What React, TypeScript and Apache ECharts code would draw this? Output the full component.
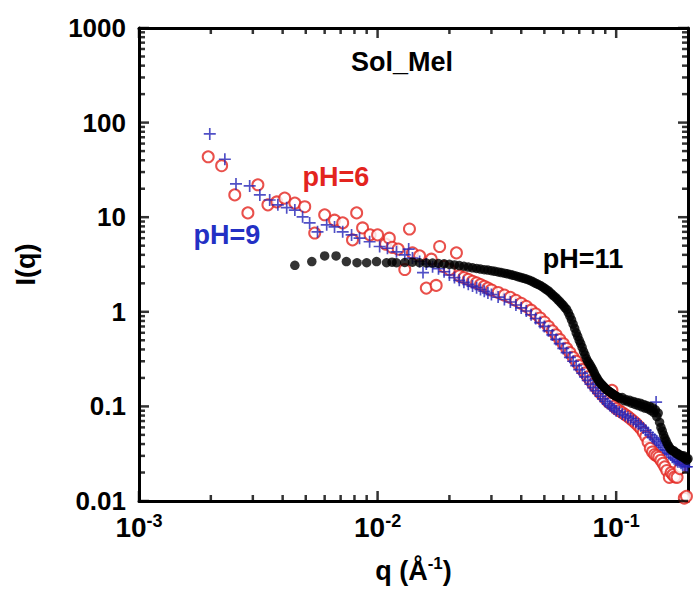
import React, { useEffect, useRef } from 'react';
import * as echarts from 'echarts';

// pH = 9 (blue crosses)
const qPH9 = [0.00198, 0.00229, 0.00255, 0.00291, 0.00321, 0.00353, 0.00382, 0.00416, 0.0045, 0.00485, 0.00519, 0.0056, 0.00612, 0.0066, 0.00714, 0.00778, 0.0084, 0.00926, 0.0102, 0.011, 0.012, 0.013, 0.0135, 0.014, 0.015, 0.0155, 0.016, 0.017, 0.018, 0.019, 0.020, 0.021, 0.022, 0.023, 0.024, 0.025, 0.026, 0.027, 0.028, 0.029, 0.030, 0.032, 0.034, 0.036, 0.038, 0.040, 0.042, 0.044, 0.046, 0.048, 0.050, 0.052, 0.054, 0.056, 0.058, 0.060, 0.062, 0.064, 0.066, 0.068, 0.070, 0.072, 0.074, 0.076, 0.078, 0.080, 0.082, 0.084, 0.086, 0.088, 0.090, 0.092, 0.094, 0.096, 0.098, 0.100, 0.103, 0.106, 0.109, 0.112, 0.115, 0.118, 0.121, 0.124, 0.127, 0.130, 0.133, 0.136, 0.139, 0.142, 0.145, 0.147, 0.148, 0.151, 0.154, 0.157, 0.160, 0.163, 0.166, 0.169, 0.172, 0.175, 0.178, 0.181, 0.184, 0.187, 0.190, 0.193, 0.196, 0.199];
const iPH9 = [76, 41, 22.5, 21.4, 17.2, 15.2, 13.5, 12.6, 11.9, 10.1, 8.7, 7.0, 8.3, 7.9, 7.0, 6.5, 6.0, 5.5, 4.9, 4.7, 4.3, 4.0, 4.6, 3.7, 3.4, 2.6, 3.2, 3.0, 2.85, 2.65, 2.45, 2.3, 2.15, 2.05, 1.95, 1.87, 1.8, 1.72, 1.65, 1.58, 1.52, 1.43, 1.35, 1.27, 1.18, 1.1, 1.02, 0.93, 0.85, 0.77, 0.7, 0.63, 0.57, 0.51, 0.46, 0.41, 0.37, 0.33, 0.3, 0.27, 0.245, 0.225, 0.205, 0.188, 0.172, 0.158, 0.147, 0.137, 0.128, 0.12, 0.113, 0.107, 0.102, 0.098, 0.094, 0.09, 0.087, 0.083, 0.08, 0.077, 0.074, 0.071, 0.068, 0.065, 0.062, 0.059, 0.056, 0.053, 0.05, 0.047, 0.045, 0.111, 0.043, 0.041, 0.039, 0.037, 0.035, 0.034, 0.032, 0.031, 0.029, 0.028, 0.027, 0.026, 0.026, 0.025, 0.024, 0.024, 0.023, 0.023];

// pH = 6 (red open circles)
const qPH6 = [0.00195, 0.00222, 0.00252, 0.00286, 0.00315, 0.00347, 0.00378, 0.00408, 0.0045, 0.00495, 0.00545, 0.006, 0.0066, 0.00714, 0.00785, 0.00817, 0.00865, 0.0093, 0.0100, 0.0108, 0.0112, 0.0115, 0.0122, 0.013, 0.0136, 0.014, 0.015, 0.016, 0.0168, 0.0176, 0.0182, 0.019, 0.020, 0.0214, 0.022, 0.023, 0.024, 0.025, 0.026, 0.027, 0.028, 0.029, 0.030, 0.032, 0.034, 0.036, 0.038, 0.040, 0.042, 0.044, 0.046, 0.048, 0.050, 0.052, 0.054, 0.056, 0.058, 0.060, 0.062, 0.064, 0.066, 0.068, 0.070, 0.072, 0.074, 0.076, 0.078, 0.080, 0.082, 0.084, 0.086, 0.088, 0.090, 0.092, 0.094, 0.096, 0.098, 0.100, 0.103, 0.106, 0.109, 0.112, 0.115, 0.118, 0.121, 0.124, 0.127, 0.130, 0.133, 0.136, 0.139, 0.142, 0.145, 0.148, 0.151, 0.154, 0.157, 0.160, 0.163, 0.167, 0.170, 0.173, 0.176, 0.180, 0.185, 0.190, 0.193, 0.197];
const iPH6 = [43.5, 35, 17.2, 11.1, 22, 13.5, 14.5, 15.9, 14.1, 12.9, 6.8, 10.6, 9.3, 8.7, 5.75, 11.1, 7.7, 6.5, 6.5, 5.2, 6.0, 4.8, 4.6, 2.8, 7.5, 4.2, 3.9, 1.78, 3.6, 1.9, 4.9, 3.0, 2.8, 4.2, 2.4, 2.3, 2.2, 2.1, 2.02, 1.94, 1.86, 1.78, 1.7, 1.6, 1.5, 1.42, 1.32, 1.23, 1.14, 1.04, 0.95, 0.86, 0.78, 0.7, 0.63, 0.57, 0.51, 0.46, 0.41, 0.37, 0.33, 0.3, 0.27, 0.245, 0.225, 0.205, 0.188, 0.172, 0.16, 0.148, 0.138, 0.13, 0.122, 0.114, 0.108, 0.148, 0.1, 0.095, 0.09, 0.086, 0.082, 0.078, 0.074, 0.07, 0.066, 0.062, 0.058, 0.053, 0.048, 0.042, 0.036, 0.033, 0.031, 0.03, 0.029, 0.027, 0.025, 0.023, 0.021, 0.0178, 0.02, 0.019, 0.018, 0.0178, 0.022, 0.028, 0.0107, 0.0112];

// pH = 11 (black filled circles)
const qPH11 = [0.0045, 0.0053, 0.0060, 0.0067, 0.0074, 0.0082, 0.0090, 0.0099, 0.0109, 0.0115, 0.012, 0.013, 0.014, 0.015, 0.016, 0.017, 0.018, 0.019, 0.020, 0.021, 0.022, 0.023, 0.024, 0.025, 0.026, 0.027, 0.028, 0.029, 0.030, 0.031, 0.032, 0.033, 0.034, 0.035, 0.036, 0.037, 0.038, 0.039, 0.040, 0.041, 0.042, 0.043, 0.044, 0.045, 0.046, 0.047, 0.048, 0.049, 0.050, 0.051, 0.052, 0.053, 0.054, 0.055, 0.056, 0.057, 0.058, 0.059, 0.060, 0.061, 0.062, 0.063, 0.064, 0.065, 0.066, 0.067, 0.068, 0.069, 0.070, 0.071, 0.072, 0.073, 0.074, 0.075, 0.076, 0.077, 0.078, 0.079, 0.080, 0.081, 0.082, 0.083, 0.084, 0.085, 0.086, 0.087, 0.088, 0.089, 0.090, 0.091, 0.092, 0.093, 0.094, 0.095, 0.096, 0.097, 0.098, 0.099, 0.100, 0.102, 0.104, 0.106, 0.108, 0.110, 0.112, 0.114, 0.116, 0.118, 0.120, 0.122, 0.124, 0.126, 0.128, 0.130, 0.132, 0.134, 0.136, 0.138, 0.140, 0.142, 0.144, 0.146, 0.148, 0.150, 0.152, 0.154, 0.156, 0.158, 0.160, 0.162, 0.164, 0.166, 0.168, 0.170, 0.172, 0.174, 0.176, 0.178, 0.180, 0.182, 0.184, 0.186, 0.188, 0.190, 0.192, 0.194, 0.196, 0.198, 0.200];
const iPH11 = [3.1, 3.4, 3.9, 3.9, 3.4, 3.3, 3.3, 3.4, 3.3, 3.35, 3.3, 3.32, 3.35, 3.3, 3.28, 3.27, 3.24, 3.22, 3.18, 3.13, 3.08, 3.03, 2.97, 2.92, 2.87, 2.83, 2.79, 2.76, 2.72, 2.68, 2.64, 2.6, 2.56, 2.52, 2.48, 2.43, 2.39, 2.34, 2.3, 2.26, 2.22, 2.17, 2.12, 2.06, 2.0, 1.95, 1.9, 1.84, 1.78, 1.72, 1.66, 1.59, 1.52, 1.46, 1.4, 1.34, 1.28, 1.22, 1.17, 1.11, 1.06, 0.98, 0.9, 0.82, 0.74, 0.67, 0.6, 0.55, 0.5, 0.46, 0.42, 0.38, 0.35, 0.32, 0.3, 0.285, 0.27, 0.255, 0.24, 0.225, 0.21, 0.2, 0.19, 0.182, 0.175, 0.17, 0.165, 0.16, 0.155, 0.151, 0.148, 0.145, 0.142, 0.14, 0.137, 0.134, 0.132, 0.13, 0.128, 0.125, 0.121, 0.124, 0.115, 0.118, 0.112, 0.116, 0.108, 0.113, 0.105, 0.11, 0.102, 0.108, 0.099, 0.105, 0.096, 0.102, 0.094, 0.1, 0.09, 0.097, 0.086, 0.092, 0.078, 0.085, 0.068, 0.06, 0.055, 0.05, 0.046, 0.043, 0.04, 0.038, 0.036, 0.035, 0.034, 0.034, 0.033, 0.032, 0.032, 0.031, 0.031, 0.03, 0.03, 0.029, 0.03, 0.028, 0.029, 0.027, 0.028];

const X_MIN = 0.001;
const X_MAX = 0.2;
const Y_MIN = 0.01;
const Y_MAX = 1000;
const X_MAJOR = [0.001, 0.01, 0.1];
const X_LABELS = ['{b|10}{s|-3}', '{b|10}{s|-2}', '{b|10}{s|-1}'];
const X_MINOR = [0.002, 0.003, 0.004, 0.005, 0.006, 0.007, 0.008, 0.009, 0.02, 0.03, 0.04, 0.05, 0.06, 0.07, 0.08, 0.09];
const Y_MAJOR = [0.01, 0.1, 1, 10, 100, 1000];
const Y_LABELS = ['0.01', '0.1', '1', '10', '100', '1000'];
const Y_MINOR = [0.02, 0.03, 0.04, 0.05, 0.06, 0.07, 0.08, 0.09, 0.2, 0.3, 0.4, 0.5, 0.6, 0.7, 0.8, 0.9, 2, 3, 4, 5, 6, 7, 8, 9, 20, 30, 40, 50, 60, 70, 80, 90, 200, 300, 400, 500, 600, 700, 800, 900];

const FONT = '"Liberation Sans", Arial, Helvetica, sans-serif';
const RED = '#e3241e';
const BLUE = '#2424b8';
const BLUE_TEXT = '#2330c4';
const MAJOR_LEN = 10;
const MINOR_LEN = 6;
const TICK_W = 2.5;

const pick = (v: number, majors: number[], labels: string[]) => {
  let best = 0;
  let bd = Infinity;
  majors.forEach((m, i) => {
    const d = Math.abs(Math.log10(v) - Math.log10(m));
    if (d < bd) { bd = d; best = i; }
  });
  return labels[best];
};

const zip = (a: number[], b: number[]) => a.map((x, i) => [x, b[i]]);

export default function App() {
  const ref = useRef<HTMLDivElement>(null);
  useEffect(() => {
    if (!ref.current) return;
    const chart = echarts.init(ref.current, undefined, { renderer: 'svg' });
    const axisLine = { show: true, onZero: false, lineStyle: { color: '#000', width: 3 } };
    const baseX = { type: 'log', logBase: 10, min: X_MIN, max: X_MAX, splitLine: { show: false }, minorTick: { show: false }, axisTick: { show: false } };
    const baseY = { type: 'log', logBase: 10, min: Y_MIN, max: Y_MAX, splitLine: { show: false }, minorTick: { show: false }, axisTick: { show: false } };

    // Tick marks drawn as rect symbols placed through the axis scales.
    const xTicks = (yEdge: number, dir: number) => [
      ...X_MAJOR.map((v) => ({ value: [v, yEdge], symbolSize: [TICK_W, MAJOR_LEN], symbolOffset: [0, dir * MAJOR_LEN / 2] })),
      ...X_MINOR.map((v) => ({ value: [v, yEdge], symbolSize: [TICK_W, MINOR_LEN], symbolOffset: [0, dir * MINOR_LEN / 2] })),
    ];
    const yTicks = (xEdge: number, dir: number) => [
      ...Y_MAJOR.map((v) => ({ value: [xEdge, v], symbolSize: [MAJOR_LEN, TICK_W], symbolOffset: [dir * MAJOR_LEN / 2, 0] })),
      ...Y_MINOR.map((v) => ({ value: [xEdge, v], symbolSize: [MINOR_LEN, TICK_W], symbolOffset: [dir * MINOR_LEN / 2, 0] })),
    ];
    const tickSeries = (data: any[]) => ({
      type: 'scatter', data, symbol: 'rect', clip: false, z: 6,
      itemStyle: { color: '#000' }, emphasis: { disabled: true }, silent: true, tooltip: { show: false },
    });

    const option: any = {
      animation: false,
      backgroundColor: '#fff',
      grid: { left: 139, right: 5, top: 28, bottom: 89 },
      xAxis: [
        {
          ...baseX, position: 'bottom', axisLine,
          axisLabel: {
            show: true, customValues: X_MAJOR, margin: 11,
            formatter: (v: number) => pick(v, X_MAJOR, X_LABELS),
            rich: {
              b: { fontFamily: FONT, fontWeight: 'bold', fontSize: 28, color: '#000', lineHeight: 30 },
              s: { fontFamily: FONT, fontWeight: 'bold', fontSize: 18, color: '#000', lineHeight: 16, verticalAlign: 'top' },
            },
          },
          name: '{n|q (Å}{s|-1}{n|)}', nameLocation: 'middle', nameGap: 54,
          nameTextStyle: {
            rich: {
              n: { fontFamily: FONT, fontWeight: 'bold', fontSize: 27, color: '#000', lineHeight: 32 },
              s: { fontFamily: FONT, fontWeight: 'bold', fontSize: 17, color: '#000', lineHeight: 18, verticalAlign: 'top' },
            },
          },
        },
        { ...baseX, position: 'top', axisLine, axisLabel: { show: false } },
      ],
      yAxis: [
        {
          ...baseY, position: 'left', axisLine,
          axisLabel: {
            show: true, customValues: Y_MAJOR, margin: 13,
            formatter: (v: number) => pick(v, Y_MAJOR, Y_LABELS),
            fontFamily: FONT, fontWeight: 'bold', fontSize: 26, color: '#000',
          },
          name: 'I(q)', nameLocation: 'middle', nameGap: 100, nameRotate: 90,
          nameTextStyle: { fontFamily: FONT, fontWeight: 'bold', fontSize: 27, color: '#000' },
        },
        { ...baseY, position: 'right', axisLine, axisLabel: { show: false } },
      ],
      series: [
        {
          name: 'pH=6', type: 'scatter',
          data: zip(qPH6, iPH6),
          symbol: 'emptyCircle', symbolSize: 11,
          itemStyle: { color: RED, borderColor: RED, borderWidth: 1.2 },
          clip: false,
        },
        {
          name: 'pH=9', type: 'scatter',
          data: zip(qPH9, iPH9),
          symbol: 'path://M4.3,0H5.7V4.3H10V5.7H5.7V10H4.3V5.7H0V4.3H4.3Z',
          symbolSize: 12,
          itemStyle: { color: BLUE },
          clip: false,
        },
        {
          name: 'pH=11', type: 'scatter',
          data: zip(qPH11, iPH11),
          symbol: 'circle', symbolSize: 9.5,
          itemStyle: { color: '#000' },
          clip: false,
        },
        tickSeries(xTicks(Y_MIN, -1)),
        tickSeries(xTicks(Y_MAX, 1)),
        tickSeries(yTicks(X_MIN, 1)),
        tickSeries(yTicks(X_MAX, -1)),
      ],
      graphic: [
        { type: 'text', x: 402, y: 62, style: { text: 'Sol_Mel', fontFamily: FONT, fontWeight: 'bold', fontSize: 27, fill: '#000', align: 'center', verticalAlign: 'middle' } },
        { type: 'text', x: 336, y: 177, style: { text: 'pH=6', fontFamily: FONT, fontWeight: 'bold', fontSize: 27, fill: RED, align: 'center', verticalAlign: 'middle' } },
        { type: 'text', x: 227, y: 235, style: { text: 'pH=9', fontFamily: FONT, fontWeight: 'bold', fontSize: 27, fill: BLUE_TEXT, align: 'center', verticalAlign: 'middle' } },
        { type: 'text', x: 583, y: 259, style: { text: 'pH=11', fontFamily: FONT, fontWeight: 'bold', fontSize: 27, fill: '#000', align: 'center', verticalAlign: 'middle' } },
      ],
    };
    chart.setOption(option);
    return () => chart.dispose();
  }, []);
  return <div ref={ref} style={{ position: 'absolute', left: 0, top: 0, width: 693, height: 590, background: '#fff' }} />;
}
